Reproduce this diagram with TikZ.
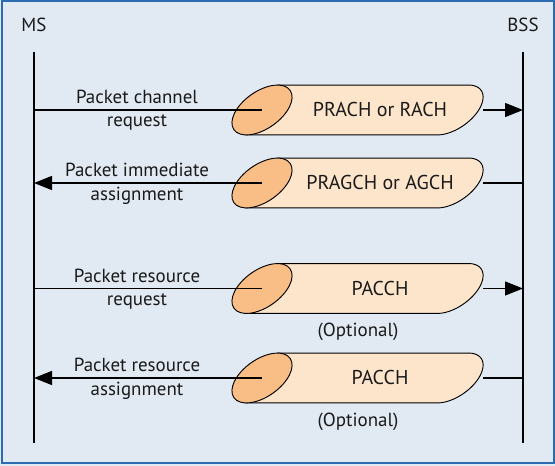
\documentclass[tikz,border=0pt]{standalone}
\usepackage{fontspec}
\setmainfont{PT Sans}
\usetikzlibrary{arrows.meta}
\definecolor{bgblue}{HTML}{E1E9F3}
\definecolor{frameblue}{HTML}{2B6CB0}
\definecolor{cylbodyc}{HTML}{FDE5CC}
\definecolor{cylendc}{HTML}{F9BD86}
\definecolor{txt}{HTML}{1A1A1A}
\newcommand\drawcyl[3]{%
  \filldraw[cylbody] ({277.72},{#2+24.94}) -- ({468.72},{#2+24.94})
    -- plot[domain=37.6:-142.4, samples=50, smooth]
       ({453 + 34.3*cos(\x)*cos(35) - 18.7*sin(\x)*sin(35)},
        {#2 + 34.3*cos(\x)*sin(35) + 18.7*sin(\x)*cos(35)})
    -- ({437.28},{#2-24.94}) -- ({246.28},{#2-24.94}) -- cycle;
  \filldraw[cylend, rotate around={35:(262,#2)}] (262,#2) ellipse [x radius=34.3, y radius=18.7];
  \coordinate (#1-c) at (262,#2);
  \coordinate (#1-r) at (483,#2);
  \node[chan] (#1) at (380,#2) {#3};
}
\begin{document}
\begin{tikzpicture}[x=0.75pt, y=0.75pt,
  cylbody/.style={fill=cylbodyc, draw=black, line width=0.7pt},
  cylend/.style={fill=cylendc, draw=black, line width=0.7pt},
  chan/.style={font=\fontsize{15}{17}\selectfont, text=txt, inner sep=0pt},
  lbl/.style={font=\fontsize{14.2}{16}\selectfont, text=txt, inner sep=0pt},
  life/.style={line width=1.1pt, black},
  msg/.style={line width=0.9pt, black},
  tip/.style={-{Triangle[length=13.5pt, width=10.5pt]}}
]
\useasboundingbox (0,0) rectangle (555,466);
\fill[bgblue] (0,0) rectangle (555,466);
\draw[frameblue, line width=1.6pt] (2,3) rectangle (554.5,465);

% actors
\node[lbl] (ms) at (34,441) {MS};
\node[lbl] (bss) at (523,441) {BSS};
\coordinate (ms-top) at (34,414);
\coordinate (ms-bot) at (34,23);
\coordinate (bss-top) at (523,414);
\coordinate (bss-bot) at (523,23);
\draw[life] (ms-top) -- (ms-bot);
\draw[life] (bss-top) -- (bss-bot);

% lifeline points
\coordinate (ms-1) at (34,356);
\coordinate (ms-2) at (34,283);
\coordinate (ms-3) at (34,177.5);
\coordinate (ms-4) at (34,88);
\coordinate (bss-1) at (523,356);
\coordinate (bss-2) at (523,283);
\coordinate (bss-3) at (523,177.5);
\coordinate (bss-4) at (523,88);

% message 1
\drawcyl{c1}{356}{PRACH or RACH}
\draw[msg] (ms-1) -- (c1-c);
\draw[msg, tip] (c1-r) -- (bss-1);
\node[lbl] (m1a) at (137,369) {Packet channel};
\node[lbl] (m1b) at (137,343) {request};

% message 2
\drawcyl{c2}{283}{PRAGCH or AGCH}
\draw[msg] (bss-2) -- (c2-r);
\draw[msg, tip] (c2-c) -- (ms-2);
\node[lbl] (m2a) at (137,296) {Packet immediate};
\node[lbl] (m2b) at (137,270) {assignment};

% message 3
\drawcyl{c3}{177.5}{PACCH}
\draw[msg] (ms-3) -- (c3-c);
\draw[msg, tip] (c3-r) -- (bss-3);
\node[lbl] (m3a) at (137,190.5) {Packet resource};
\node[lbl] (m3b) at (137,164.5) {request};
\node[lbl] (o3) at (358,134) {(Optional)};

% message 4
\drawcyl{c4}{88}{PACCH}
\draw[msg] (bss-4) -- (c4-r);
\draw[msg, tip] (c4-c) -- (ms-4);
\node[lbl] (m4a) at (137,101) {Packet resource};
\node[lbl] (m4b) at (137,75) {assignment};
\node[lbl] (o4) at (358,44) {(Optional)};
\end{tikzpicture}
\end{document}
